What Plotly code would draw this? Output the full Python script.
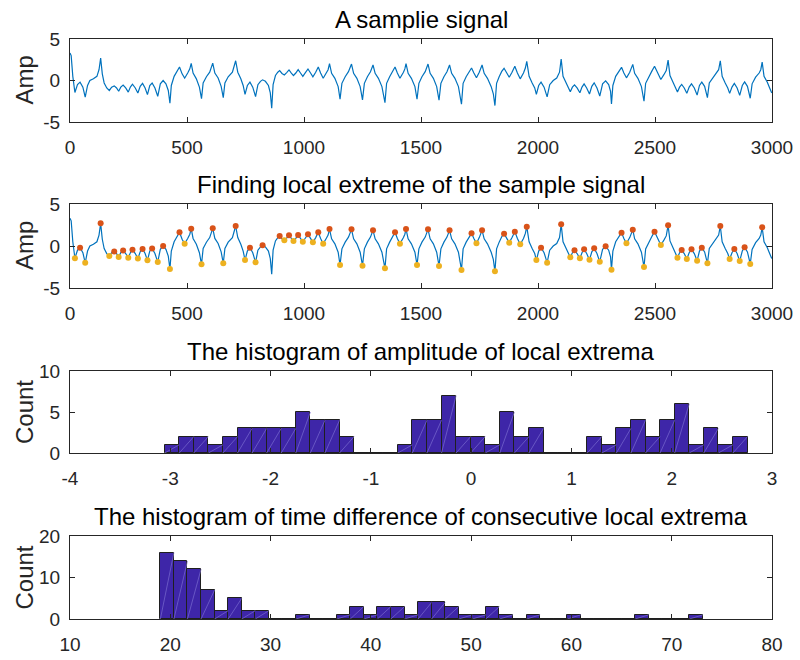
import plotly.graph_objects as go

# ---- signal vertices (sample index, amplitude) ----
sig_x = [0, 5, 12, 21, 32, 43, 55, 65, 75, 85, 100, 115, 124, 131, 138, 146, 157, 168, 178, 189,
         199, 208, 217, 227, 238, 249, 258, 267, 279, 290, 300, 310, 321, 331, 341, 351, 363, 375, 386, 398,
         410, 420, 427, 433, 445, 458, 468, 479, 490, 503, 512, 518, 526, 540, 553, 562, 569, 583, 597, 610,
         619, 633, 646, 655, 662, 676, 694, 708, 717, 730, 740, 748, 758, 769, 781, 793, 803, 814, 823, 835,
         848, 856, 862, 868, 878, 888, 896, 906, 916, 926, 936, 946, 955, 965, 975, 985, 995, 1006, 1017, 1028,
         1038, 1050, 1061, 1071, 1082, 1095, 1103, 1109, 1118, 1132, 1146, 1154, 1162, 1176, 1190, 1203, 1212, 1226, 1240, 1250,
         1258, 1271, 1284, 1295, 1304, 1318, 1333, 1346, 1353, 1366, 1378, 1389, 1399, 1410, 1425, 1431, 1436, 1445, 1459, 1474,
         1483, 1491, 1504, 1518, 1530, 1539, 1553, 1567, 1577, 1585, 1598, 1611, 1622, 1631, 1645, 1660, 1673, 1680, 1693, 1705,
         1716, 1726, 1737, 1749, 1755, 1761, 1770, 1784, 1800, 1809, 1816, 1823, 1834, 1845, 1855, 1866, 1877, 1889, 1901, 1912,
         1924, 1938, 1946, 1952, 1962, 1975, 1986, 1993, 2003, 2013, 2026, 2039, 2050, 2065, 2080, 2092, 2099, 2107, 2120, 2130,
         2138, 2147, 2156, 2167, 2179, 2188, 2197, 2208, 2220, 2230, 2240, 2252, 2264, 2276, 2289, 2302, 2310, 2314, 2320, 2332,
         2345, 2357, 2367, 2378, 2392, 2399, 2405, 2413, 2427, 2442, 2453, 2460, 2473, 2486, 2498, 2511, 2525, 2538, 2548, 2556,
         2564, 2577, 2588, 2596, 2605, 2614, 2625, 2636, 2646, 2656, 2668, 2680, 2690, 2700, 2712, 2724, 2732, 2748, 2762, 2772,
         2779, 2787, 2800, 2811, 2819, 2829, 2839, 2851, 2862, 2873, 2883, 2895, 2907, 2915, 2930, 2945, 2952, 2958, 2966, 2980,
         2990, 2999]
sig_y = [3.3, 3.0, 0.5, -1.45, -0.5, -0.2, -0.8, -2.0, -0.6, 0.0, 0.2, 0.5, 1.3, 2.7, 0.8, -0.3, -0.9, -1.2, -0.8, -0.65,
         -0.9, -1.3, -0.8, -0.55, -0.9, -1.4, -0.8, -0.45, -0.9, -1.5, -0.7, -0.35, -0.9, -1.7, -0.6, -0.3, -0.9, -1.9, -0.4, 0.0,
         -0.4, -1.2, -2.74, -0.6, 0.5, 1.1, 1.63, 0.8, 0.28, 0.9, 1.4, 2.06, 0.9, 0.2, -0.8, -2.18, -0.3, 0.45, 1.0, 2.1,
         0.9, 0.3, -0.7, -2.06, -0.3, 0.45, 1.0, 2.38, 1.0, 0.2, -0.6, -1.67, -0.6, -0.2, -0.8, -1.94, -0.5, -0.1, 0.08, -0.1,
         -0.6, -1.5, -3.35, -0.5, 0.6, 1.0, 1.19, 0.85, 0.67, 0.95, 1.27, 0.9, 0.6, 0.9, 1.31, 0.9, 0.5, 0.95, 1.39, 0.9,
         0.44, 1.0, 1.63, 0.9, 0.28, 0.9, 1.3, 2.02, 0.86, 0.26, -0.74, -2.26, -0.34, 0.46, 1.06, 1.98, 0.86, 0.26, -0.74, -2.34,
         -0.34, 0.46, 1.06, 1.87, 0.86, 0.26, -0.74, -2.66, -0.34, 0.46, 1.1, 1.63, 0.9, 0.28, 1.0, 1.4, 2.02, 0.86, 0.26, -0.74,
         -2.26, -0.34, 0.46, 1.06, 1.98, 0.86, 0.26, -0.74, -2.38, -0.34, 0.46, 1.06, 1.87, 0.86, 0.26, -0.74, -2.86, -0.34, 0.46, 1.1,
         1.51, 0.9, 0.32, 1.0, 1.4, 1.87, 0.86, 0.26, -0.74, -1.6, -3.02, -0.34, 0.46, 1.1, 1.47, 0.9, 0.4, 1.0, 1.71, 0.9,
         0.2, 0.9, 1.5, 2.3, 0.5, -0.3, -0.9, -1.67, -0.6, -0.2, -0.8, -1.98, -0.5, 0.0, 0.3, 1.0, 2.58, 0.5, -0.3, -0.8,
         -1.35, -0.8, -0.52, -0.9, -1.47, -0.8, -0.4, -0.9, -1.63, -0.7, -0.28, -0.9, -1.87, -0.4, -0.04, -0.5, -1.3, -2.82, -0.6, 0.5,
         1.1, 1.59, 0.9, 0.32, 1.0, 1.4, 1.94, 0.86, 0.26, -0.74, -2.5, -0.34, 0.46, 1.1, 1.71, 0.9, 0.12, 0.7, 1.2, 2.46,
         0.6, -0.2, -0.8, -1.39, -0.8, -0.48, -0.9, -1.55, -0.8, -0.4, -0.9, -1.75, -0.6, -0.2, -0.7, -2.06, -0.3, 0.3, 0.8, 1.3,
         2.38, 0.5, -0.3, -0.9, -1.55, -0.8, -0.36, -0.9, -1.79, -0.6, -0.16, -0.7, -2.14, -0.4, 0.4, 0.9, 1.3, 2.22, 0.5, -0.2,
         -0.9, -1.5]

# ---- local maxima / minima markers ----
max_x = [43, 131, 189, 227, 267, 310, 351, 398, 468, 518, 610, 708, 769, 823, 896, 936, 975, 1017, 1061, 1109,
         1203, 1295, 1389, 1436, 1530, 1622, 1716, 1761, 1855, 1901, 1952, 2013, 2099, 2156, 2197, 2240, 2289, 2357, 2405, 2498,
         2556, 2614, 2656, 2700, 2779, 2839, 2883, 2958]
max_y = [-0.2, 2.7, -0.65, -0.55, -0.45, -0.35, -0.3, 0.0, 1.63, 2.06, 2.1, 2.38, -0.2, 0.08, 1.19, 1.27, 1.31, 1.39, 1.63, 2.02,
         1.98, 1.87, 1.63, 2.02, 1.98, 1.87, 1.51, 1.87, 1.47, 1.71, 2.3, -0.2, 2.58, -0.52, -0.4, -0.28, -0.04, 1.59, 1.94, 1.71,
         2.46, -0.48, -0.4, -0.2, 2.38, -0.36, -0.16, 2.22]
min_x = [21, 65, 168, 208, 249, 290, 331, 375, 427, 490, 562, 655, 748, 793, 916, 955, 995, 1038, 1082, 1154,
         1250, 1346, 1410, 1483, 1577, 1673, 1737, 1816, 1877, 1924, 1993, 2039, 2138, 2179, 2220, 2264, 2314, 2378, 2453, 2525,
         2596, 2636, 2680, 2724, 2819, 2862, 2907]
min_y = [-1.45, -2.0, -1.2, -1.3, -1.4, -1.5, -1.7, -1.9, -2.74, 0.28, -2.18, -2.06, -1.67, -1.94, 0.67, 0.6, 0.5, 0.44, 0.28, -2.26,
         -2.34, -2.66, 0.28, -2.26, -2.38, -2.86, 0.32, -3.02, 0.4, 0.2, -1.67, -1.98, -1.35, -1.47, -1.63, -1.87, -2.82, 0.32, -2.5, 0.12,
         -1.39, -1.55, -1.75, -2.06, -1.55, -1.79, -2.14]

# ---- histogram of amplitudes (counts per bin) ----
amp_first_edge = -3.056
amp_bin_width = 0.1453
amp_counts = [1, 2, 2, 1, 2, 3, 3, 3, 3, 5, 4, 4, 2, 0, 0, 0, 1, 4, 4, 7,
              2, 2, 1, 5, 2, 3, 0, 0, 0, 2, 1, 3, 4, 2, 4, 6, 1, 3, 1, 2]

# ---- histogram of time differences (counts per bin) ----
dt_first_edge = 19.01
dt_bin_width = 1.3525
dt_counts = [16, 14, 12, 7, 2, 5, 2, 2, 0, 0, 1, 0, 0, 1, 3, 1, 3, 3, 1, 4,
             4, 3, 1, 1, 3, 1, 0, 1, 0, 0, 1, 0, 0, 0, 0, 1, 0, 0, 0, 1]

titles = ["A samplie signal", "Finding local extreme of the sample signal",
          "The histogram of amplitude of local extrema",
          "The histogram of time difference of consecutive local extrema"]
ylabels = ["Amp", "Amp", "Count", "Count"]

W, H = 800, 660
FONT = "Liberation Sans, Arial, Helvetica, sans-serif"
AX = "#262626"

# panel boxes in pixels (top, bottom)
boxes = [(39, 122), (204, 288), (371, 453), (536, 619)]
xl, xr = 70, 772

fig = go.Figure()

fig.add_trace(go.Scatter(x=sig_x, y=sig_y, mode="lines", line=dict(color="#0072BD", width=1.2),
                         xaxis="x", yaxis="y", showlegend=False, hoverinfo="skip"))
fig.add_trace(go.Scatter(x=sig_x, y=sig_y, mode="lines", line=dict(color="#0072BD", width=1.2),
                         xaxis="x2", yaxis="y2", showlegend=False))
fig.add_trace(go.Scatter(x=max_x, y=max_y, mode="markers", marker=dict(color="#D95319", size=6),
                         xaxis="x2", yaxis="y2", showlegend=False))
fig.add_trace(go.Scatter(x=min_x, y=min_y, mode="markers", marker=dict(color="#EDB120", size=6),
                         xaxis="x2", yaxis="y2", showlegend=False))


def add_hist(first, w, counts, xa, ya):
    cx = [first + w * (i + 0.5) for i in range(len(counts))]
    last = first + w * len(counts)
    # baseline under the histogram (zero-height bins)
    fig.add_trace(go.Scatter(x=[first, last], y=[0, 0], mode="lines",
                             line=dict(color="#1F1F1F", width=1.6), xaxis=xa, yaxis=ya,
                             showlegend=False, hoverinfo="skip"))
    fig.add_trace(go.Bar(x=cx, y=counts, width=w,
                         marker=dict(color="#3E26A8", line=dict(color="#1F1F1F", width=1)),
                         xaxis=xa, yaxis=ya, showlegend=False))
    # faint diagonal seam of each bar face
    sx, sy = [], []
    for c, n in zip(cx, counts):
        if n > 0:
            sx += [c - w / 2, c + w / 2, None]
            sy += [0, n, None]
    fig.add_trace(go.Scatter(x=sx, y=sy, mode="lines", line=dict(color="#7A6CD0", width=0.7),
                             xaxis=xa, yaxis=ya, showlegend=False, hoverinfo="skip"))


add_hist(amp_first_edge, amp_bin_width, amp_counts, "x3", "y3")
add_hist(dt_first_edge, dt_bin_width, dt_counts, "x4", "y4")

xranges = [[0, 3000], [0, 3000], [-4, 3], [10, 80]]
xticks = [[0, 500, 1000, 1500, 2000, 2500, 3000]] * 2 + [[-4, -3, -2, -1, 0, 1, 2, 3],
                                                        [10, 20, 30, 40, 50, 60, 70, 80]]
yranges = [[-5, 5], [-5, 5], [0, 10], [0, 20]]
yticks = [[-5, 0, 5], [-5, 0, 5], [0, 5, 10], [0, 10, 20]]

layout = dict(width=W, height=H, margin=dict(l=0, r=0, t=0, b=0, autoexpand=False),
              paper_bgcolor="white", plot_bgcolor="white",
              font=dict(family=FONT, color=AX, size=19), bargap=0)
annotations = []
common = dict(showline=True, linecolor=AX, linewidth=1, mirror="ticks", ticks="inside",
              ticklen=5, tickcolor=AX, showgrid=False, zeroline=False, automargin=False,
              tickfont=dict(family=FONT, size=19, color=AX))
for i, (top, bot) in enumerate(boxes):
    k = "" if i == 0 else str(i + 1)
    ydom = [1 - bot / H, 1 - top / H]
    layout["xaxis" + k] = dict(domain=[xl / W, xr / W], range=xranges[i], tickvals=xticks[i],
                               ticktext=[str(v) for v in xticks[i]],
                               anchor="y" + k, ticklabelstandoff=8, **common)
    layout["yaxis" + k] = dict(domain=ydom, range=yranges[i], tickvals=yticks[i],
                               ticktext=[str(v) for v in yticks[i]],
                               anchor="x" + k, ticklabelstandoff=5, **common)
    annotations.append(dict(text=titles[i], x=(xl + xr) / 2 / W, y=1 - (top - 20) / H,
                            xref="paper", yref="paper", xanchor="center", yanchor="middle",
                            showarrow=False, font=dict(family=FONT, size=24, color="black")))
    annotations.append(dict(text=ylabels[i], x=24 / W, y=1 - (top + bot) / 2 / H,
                            xref="paper", yref="paper", xanchor="center", yanchor="middle",
                            textangle=-90, showarrow=False,
                            font=dict(family=FONT, size=24, color=AX)))
layout["annotations"] = annotations
fig.update_layout(**layout)
fig.write_html("out.html", post_script="document.body.style.margin='0';")
